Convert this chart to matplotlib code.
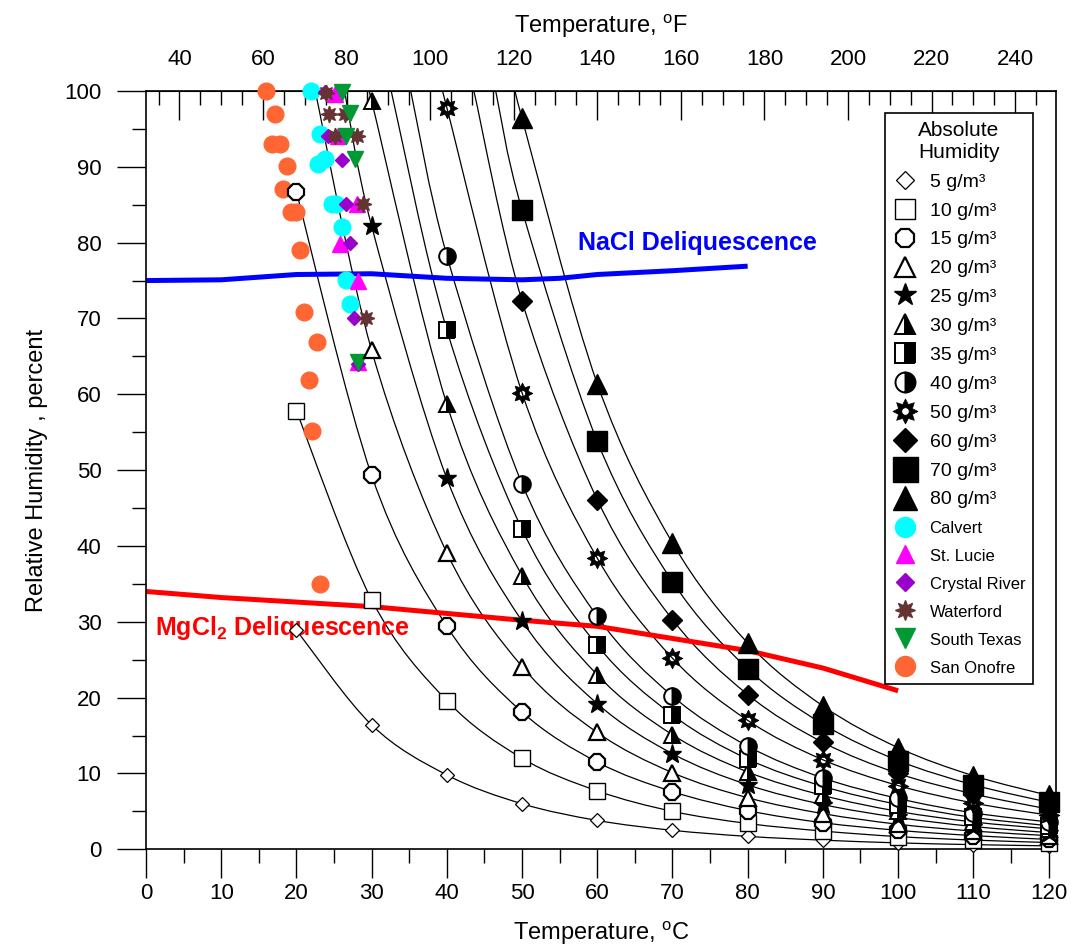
import numpy as np
import matplotlib
matplotlib.use('Agg')
import matplotlib.pyplot as plt
from matplotlib.path import Path
from matplotlib.patches import PathPatch
from matplotlib.ticker import MultipleLocator, FixedLocator

plt.rcParams['font.family'] = ['Liberation Sans', 'DejaVu Sans']
plt.rcParams['mathtext.fontset'] = 'custom'
plt.rcParams['mathtext.rm'] = 'Liberation Sans'
plt.rcParams['mathtext.bf'] = 'Liberation Sans:bold'

# temperatures (deg C) of the absolute humidity points
temps = [20, 30, 40, 50, 60, 70, 80, 90, 100, 110, 120]

ah_values = [5, 10, 15, 20, 25, 30, 35, 40, 50, 60, 70, 80]
rh_5 = [28.9, 16.4, 9.8, 6.0, 3.8, 2.5, 1.7, 1.2, 0.84, 0.61, 0.45]
rh_10 = [57.8, 32.9, 19.6, 12.0, 7.7, 5.0, 3.4, 2.4, 1.67, 1.21, 0.89]
rh_15 = [86.7, 49.3, 29.4, 18.1, 11.5, 7.6, 5.1, 3.5, 2.5, 1.8, 1.3]
rh_20 = [None, 65.8, 39.1, 24.1, 15.4, 10.1, 6.8, 4.7, 3.3, 2.4, 1.8]
rh_25 = [None, 82.2, 48.9, 30.1, 19.2, 12.6, 8.5, 5.9, 4.2, 3.0, 2.2]
rh_30 = [None, 98.7, 58.7, 36.1, 23.0, 15.1, 10.2, 7.1, 5.0, 3.6, 2.7]
rh_35 = [None, None, 68.5, 42.2, 26.9, 17.7, 11.9, 8.3, 5.9, 4.2, 3.1]
rh_40 = [None, None, 78.3, 48.2, 30.7, 20.2, 13.6, 9.4, 6.7, 4.8, 3.6]
rh_50 = [None, None, 97.8, 60.2, 38.4, 25.2, 17.0, 11.8, 8.4, 6.1, 4.5]
rh_60 = [None, None, None, 72.3, 46.1, 30.3, 20.4, 14.1, 10.0, 7.3, 5.3]
rh_70 = [None, None, None, 84.3, 53.8, 35.3, 23.8, 16.5, 11.7, 8.5, 6.2]
rh_80 = [None, None, None, 96.4, 61.4, 40.4, 27.2, 18.9, 13.4, 9.7, 7.1]
ah_rh = [rh_5, rh_10, rh_15, rh_20, rh_25, rh_30, rh_35, rh_40, rh_50, rh_60, rh_70, rh_80]
# where each curve leaves the top of the chart (RH = 100 %)
top_start = [None, None, None, 22.5, 26.4, 29.8, 32.6, 35.2, 39.5, 43.6, 46.5, 49.3]

nacl_t = [0, 10, 20, 30, 40, 50, 55, 60, 70, 80]
nacl_rh = [75.0, 75.1, 75.8, 75.9, 75.3, 75.1, 75.3, 75.8, 76.3, 76.9]
mgcl_t = [0, 10, 20, 30, 40, 50, 60, 70, 80, 90, 100]
mgcl_rh = [34.0, 33.2, 32.6, 32.0, 31.1, 30.2, 29.4, 27.8, 26.2, 23.9, 20.9]

calvert_t = [22.0, 23.1, 22.9, 23.8, 24.7, 25.3, 26.0, 26.6, 27.1]
calvert_rh = [100, 94.3, 90.4, 91.0, 85.1, 85.1, 82.0, 75.1, 71.9]
stlucie_t = [25.1, 25.5, 28.0, 25.8, 28.2, 28.2]
stlucie_rh = [99.6, 94.1, 85.1, 79.8, 75.0, 64.2]
crystal_t = [23.8, 24.2, 26.1, 26.6, 27.1, 27.7, 28.2]
crystal_rh = [99.9, 94.1, 90.9, 85.1, 80.0, 70.1, 64.0]
waterford_t = [23.9, 24.3, 26.4, 25.1, 28.0, 28.8, 29.2]
waterford_rh = [99.8, 97.0, 97.0, 94.1, 94.1, 85.1, 70.0]
stexas_t = [26.0, 27.1, 26.6, 27.8, 28.2]
stexas_rh = [99.9, 97.1, 94.1, 91.0, 64.2]
sanonofre_t = [16.0, 17.1, 16.8, 17.8, 18.7, 18.2, 19.3, 20.0, 20.5, 21.0, 22.7, 21.7, 22.1, 23.1]
sanonofre_rh = [100, 97.0, 93.0, 93.0, 90.1, 87.1, 84.0, 84.0, 79.0, 70.9, 66.9, 61.9, 55.1, 35.0]

fahrenheit_ticks = [40, 60, 80, 100, 120, 140, 160, 180, 200, 220, 240]


def smooth_path(xs, ys):
    # catmull-rom through the points, drawn as cubic bezier segments
    pts = np.column_stack([xs, ys])
    verts = [pts[0]]
    codes = [Path.MOVETO]
    n = len(pts)
    for i in range(n - 1):
        p0 = pts[max(i - 1, 0)]
        p1 = pts[i]
        p2 = pts[i + 1]
        p3 = pts[min(i + 2, n - 1)]
        verts += [p1 + (p2 - p0) / 6, p2 - (p3 - p1) / 6, p2]
        codes += [Path.CURVE4] * 3
    return Path(verts, codes)


def sun_marker():
    ang = np.pi / 2 + np.arange(16) * np.pi / 8
    r = np.tile([1.0, 0.6], 8)
    outer = np.column_stack([r * np.cos(ang), r * np.sin(ang)])
    inner = np.column_stack([0.3 * np.cos(ang), 0.3 * np.sin(ang)])[::-1]
    verts = list(outer) + [outer[0]] + list(inner) + [inner[0]]
    codes = ([Path.MOVETO] + [Path.LINETO] * 15 + [Path.CLOSEPOLY]) * 2
    return Path(verts, codes)


k = dict(mec='black', mfc='black')
half = dict(fillstyle='right', mfc='black', markerfacecoloralt='white', mec='black', mew=1.4)
ah_styles = [
    dict(marker='D', ms=7.5, mfc='white', mec='black', mew=0.9),
    dict(marker='s', ms=11.5, mfc='white', mec='black', mew=1.0),
    dict(marker='8', ms=12, mfc='white', mec='black', mew=1.6),
    dict(marker='^', ms=12, mfc='white', mec='black', mew=1.6),
    dict(marker='*', ms=14, **k),
    dict(marker='^', ms=12, **half),
    dict(marker='s', ms=12, **half),
    dict(marker='o', ms=12, **half),
    dict(marker=sun_marker(), ms=15, mew=0.5, **k),
    dict(marker='D', ms=10, **k),
    dict(marker='s', ms=15, **k),
    dict(marker='^', ms=14, **k),
]

fig = plt.figure(figsize=(10.72, 9.49), dpi=100)
ax = fig.add_axes([0.1362, 0.1051, 0.8489, 0.7990])

handles = []
for val, rh, t0, st in zip(ah_values, ah_rh, top_start, ah_styles):
    xs = [t for t, v in zip(temps, rh) if v is not None]
    ys = [v for v in rh if v is not None]
    lx, ly = list(xs), list(ys)
    if t0 is not None:
        lx = [t0] + lx
        ly = [100] + ly
    ax.add_patch(PathPatch(smooth_path(lx, ly), fill=False, ec='black', lw=0.9, zorder=1.5))
    h, = ax.plot(xs, ys, ls='none', zorder=4, clip_on=False,
                 label=f'{val} g/m\u00b3', **st)
    handles.append(h)

ax.plot(nacl_t, nacl_rh, color='#0000ff', lw=3.6, zorder=2, solid_capstyle='butt')
ax.plot(mgcl_t, mgcl_rh, color='#ff0000', lw=3.6, zorder=2, solid_capstyle='butt')

plants = [
    ('Calvert', calvert_t, calvert_rh, dict(marker='o', ms=12, color='#00ffff')),
    ('St. Lucie', stlucie_t, stlucie_rh, dict(marker='^', ms=11, color='#ff00ff')),
    ('Crystal River', crystal_t, crystal_rh, dict(marker='D', ms=7.5, color='#9900cc')),
    ('Waterford', waterford_t, waterford_rh, dict(marker=(8, 1, 0), ms=12, color='#663333')),
    ('South Texas', stexas_t, stexas_rh, dict(marker='v', ms=12, color='#009933')),
    ('San Onofre', sanonofre_t, sanonofre_rh, dict(marker='o', ms=12, color='#ff6633')),
]
for name, t, rh, st in plants:
    h, = ax.plot(t, rh, ls='none', zorder=3, clip_on=False, label=name, **st)
    handles.append(h)

ax.text(57.5, 80.0, 'NaCl Deliquescence', color='#0000ff', fontsize=18,
        fontweight='bold', ha='left', va='center')
ax.text(1.2, 29.2, r'MgCl$_\mathbf{2}$ Deliquescence', color='#ff0000', fontsize=18,
        fontweight='bold', ha='left', va='center')

ax.set_xlim(0, 121)
ax.set_ylim(0, 100)
ax.xaxis.set_major_locator(MultipleLocator(10))
ax.xaxis.set_minor_locator(MultipleLocator(5))
ax.yaxis.set_major_locator(MultipleLocator(10))
ax.yaxis.set_minor_locator(MultipleLocator(5))
ax.tick_params(axis='x', which='major', direction='out', length=21, width=1, labelsize=16, pad=3, top=False)
ax.tick_params(axis='x', which='minor', direction='out', length=10, width=1, top=False)
ax.tick_params(axis='y', which='major', direction='out', length=21, width=1, labelsize=16, pad=11, right=False)
ax.tick_params(axis='y', which='minor', direction='out', length=10, width=1, right=False)
for s in ax.spines.values():
    s.set_linewidth(1.2)

secax = ax.secondary_xaxis('top', functions=(lambda c: c * 1.8 + 32, lambda f: (f - 32) / 1.8))
secax.xaxis.set_major_locator(FixedLocator(fahrenheit_ticks))
secax.xaxis.set_minor_locator(FixedLocator(np.arange(35, 250, 5)))
secax.tick_params(which='major', direction='in', length=21, width=1, labelsize=16, pad=15)
secax.tick_params(which='minor', direction='in', length=10, width=1)
secax.set_xlabel(r'Temperature, $^{\mathrm{o}}$F', fontsize=17, labelpad=12)

ax.set_xlabel(r'Temperature, $^{\mathrm{o}}$C', fontsize=17, labelpad=11)
ax.set_ylabel('Relative Humidity , percent', fontsize=17, labelpad=12)

leg = ax.legend(handles=handles, loc='upper right', bbox_to_anchor=(0.9747, 0.971),
                borderaxespad=0, title='Absolute\nHumidity', title_fontsize=15, fontsize=14,
                frameon=True, fancybox=False, edgecolor='black', framealpha=1,
                markerscale=1.2, handlelength=1.3, handletextpad=0.6,
                labelspacing=0.58, borderpad=0.4)
leg.get_frame().set_linewidth(1.2)
for txt in leg.get_texts()[12:]:
    txt.set_fontsize(12)
leg.set_zorder(10)

fig.savefig('out.png', dpi=100)
